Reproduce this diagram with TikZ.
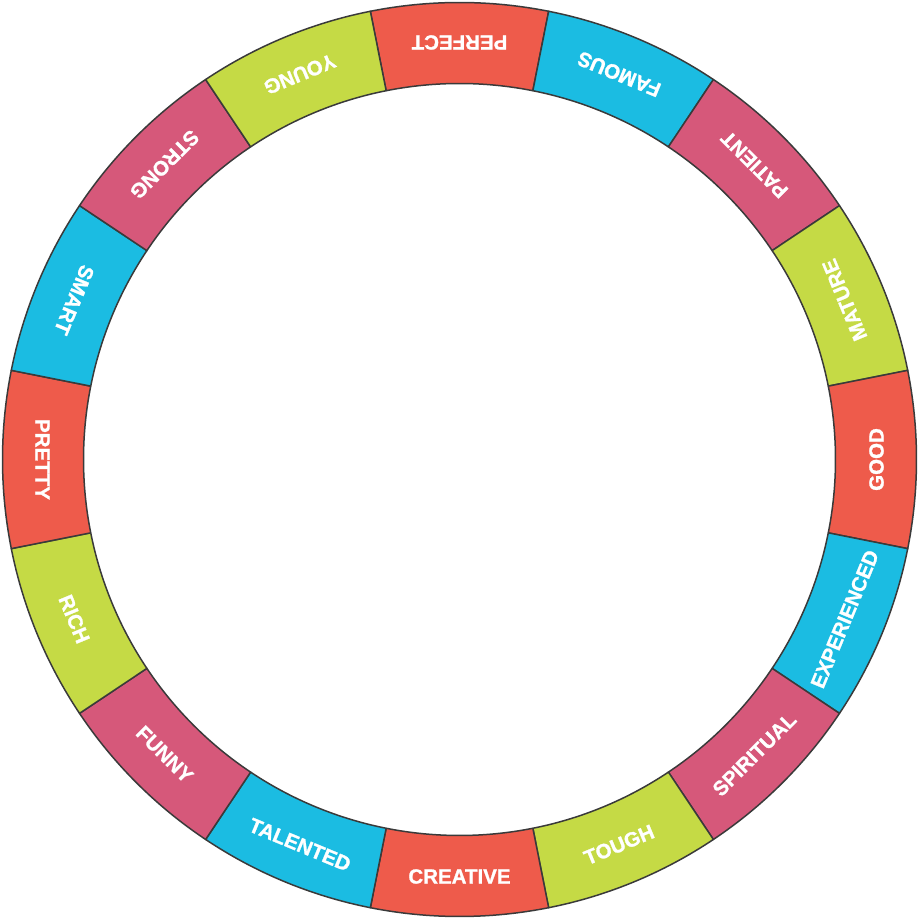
\documentclass[tikz,border=0pt]{standalone}
\usepackage{fontspec}
\setmainfont{Liberation Sans}
\newfontfamily\lblfont{Liberation Sans Bold}[FakeBold=1.2]
\definecolor{cred}{HTML}{EE5B4B}
\definecolor{ccyan}{HTML}{1BBCE2}
\definecolor{cpink}{HTML}{D6587A}
\definecolor{cgreen}{HTML}{C5DA45}
\definecolor{cedge}{HTML}{3A3A3A}
\tikzset{
  segbox/.style={draw=cedge, line width=1.5pt, line join=round},
  seglabel/.style={text=white, font=\lblfont\fontsize{20.5}{21}\selectfont, inner sep=0pt, anchor=center}
}
\begin{document}
\begin{tikzpicture}[x=1pt,y=1pt]
\useasboundingbox (0,0) rectangle (920,920);
\def\Ro{457}
\def\Ri{376}
\def\Rt{417}
\foreach \w/\c [count=\i from 0] in {PERFECT/cred, FAMOUS/ccyan, PATIENT/cpink, MATURE/cgreen, GOOD/cred, EXPERIENCED/ccyan, SPIRITUAL/cpink, TOUGH/cgreen, CREATIVE/cred, TALENTED/ccyan, FUNNY/cpink, RICH/cgreen, PRETTY/cred, SMART/ccyan, STRONG/cpink, YOUNG/cgreen}{
  \pgfmathsetmacro{\a}{90-22.5*\i}
  \pgfmathsetmacro{\s}{\a+11.25}
  \pgfmathsetmacro{\e}{\a-11.25}
  \pgfmathsetmacro{\r}{\a+90}
  \begin{scope}[shift={(459.5,460.5)}]
    \filldraw[segbox, fill=\c] (\s:\Ro) arc[start angle=\s, end angle=\e, radius=\Ro] -- (\e:\Ri) arc[start angle=\e, end angle=\s, radius=\Ri] -- cycle;
    \node[seglabel, rotate=\r] (t\i) at (\a:\Rt) {\w};
  \end{scope}
}
\end{tikzpicture}
\end{document}
